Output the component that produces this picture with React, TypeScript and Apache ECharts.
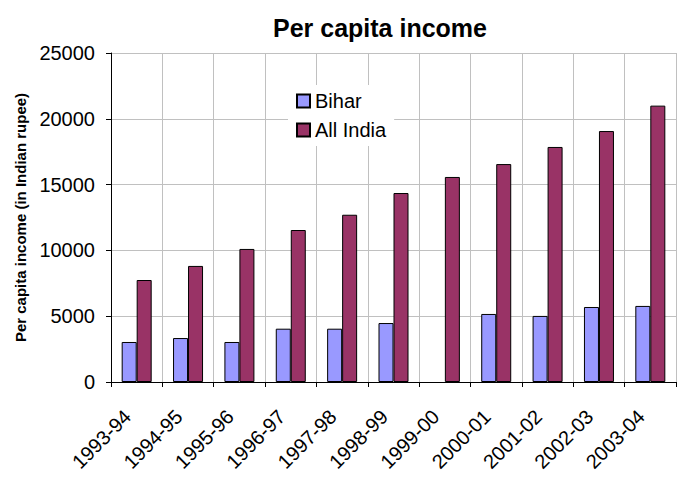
import React, { useEffect, useRef } from "react";
import * as echarts from "echarts";

const categories = ["1993-94", "1994-95", "1995-96", "1996-97", "1997-98", "1998-99", "1999-00", "2000-01", "2001-02", "2002-03", "2003-04"];
const biharValues: (number | null)[] = [3040, 3340, 3040, 4050, 4050, 4480, null, 5170, 5020, 5700, 5780];
const indiaValues = [7750, 8820, 10110, 11550, 12710, 14360, 15580, 16560, 17860, 19070, 21000];
const yTicks = { min: 0, max: 25000, interval: 5000 };

const FONT = "Liberation Sans, Arial, sans-serif";

export default function App() {
  const ref = useRef<HTMLDivElement>(null);
  useEffect(() => {
    if (!ref.current) return;
    const chart = echarts.init(ref.current, null, { renderer: "svg" });
    chart.setOption({
      animation: false,
      backgroundColor: "#ffffff",
      title: {
        text: "Per capita income",
        left: 375,
        top: 10,
        textAlign: "center",
        textStyle: { fontFamily: FONT, fontSize: 25, fontWeight: "bold", color: "#000" },
      },
      legend: {
        orient: "vertical",
        left: 288,
        top: 85,
        padding: [6, 8, 6, 8],
        backgroundColor: "#ffffff",
        itemWidth: 13,
        itemHeight: 13,
        itemGap: 9,
        icon: "rect",
        textStyle: { fontFamily: FONT, fontSize: 20, color: "#000" },
        data: ["Bihar", "All India"],
      },
      grid: { left: 111, right: 16, top: 53, bottom: 111, containLabel: false },
      xAxis: {
        type: "category",
        data: categories,
        boundaryGap: true,
        axisLine: { lineStyle: { color: "#000", width: 1 } },
        axisTick: { show: true, length: 5, lineStyle: { color: "#000" } },
        splitLine: { show: true, lineStyle: { color: "#c0c0c0", width: 1 } },
        axisLabel: {
          rotate: 45,
          interval: 0,
          margin: 22,
          padding: [0, 13, 0, 0],
          fontFamily: FONT,
          fontSize: 20,
          color: "#000",
        },
      },
      yAxis: {
        type: "value",
        min: yTicks.min,
        max: yTicks.max,
        interval: yTicks.interval,
        name: "Per capita income (in Indian rupee)",
        nameLocation: "middle",
        nameGap: 82,
        nameTextStyle: { fontFamily: FONT, fontSize: 15, fontWeight: "bold", color: "#000" },
        axisLine: { show: true, lineStyle: { color: "#000", width: 1 } },
        axisTick: { show: true, length: 5, lineStyle: { color: "#000" } },
        splitLine: { show: true, lineStyle: { color: "#c0c0c0", width: 1 } },
        axisLabel: { fontFamily: FONT, fontSize: 20, color: "#000", margin: 16, formatter: (v: number) => String(v) },
      },
      series: [
        {
          name: "Bihar",
          type: "bar",
          data: biharValues,
          barWidth: 15,
          barGap: "0%",
          itemStyle: { color: "#9999ff", borderColor: "#000", borderWidth: 1 },
        },
        {
          name: "All India",
          type: "bar",
          data: indiaValues,
          barWidth: 15,
          barGap: "0%",
          itemStyle: { color: "#993366", borderColor: "#000", borderWidth: 1 },
        },
      ],
    });
    return () => chart.dispose();
  }, []);
  return <div ref={ref} style={{ width: 692, height: 493, position: "fixed", left: 0, top: 0 }} />;
}
